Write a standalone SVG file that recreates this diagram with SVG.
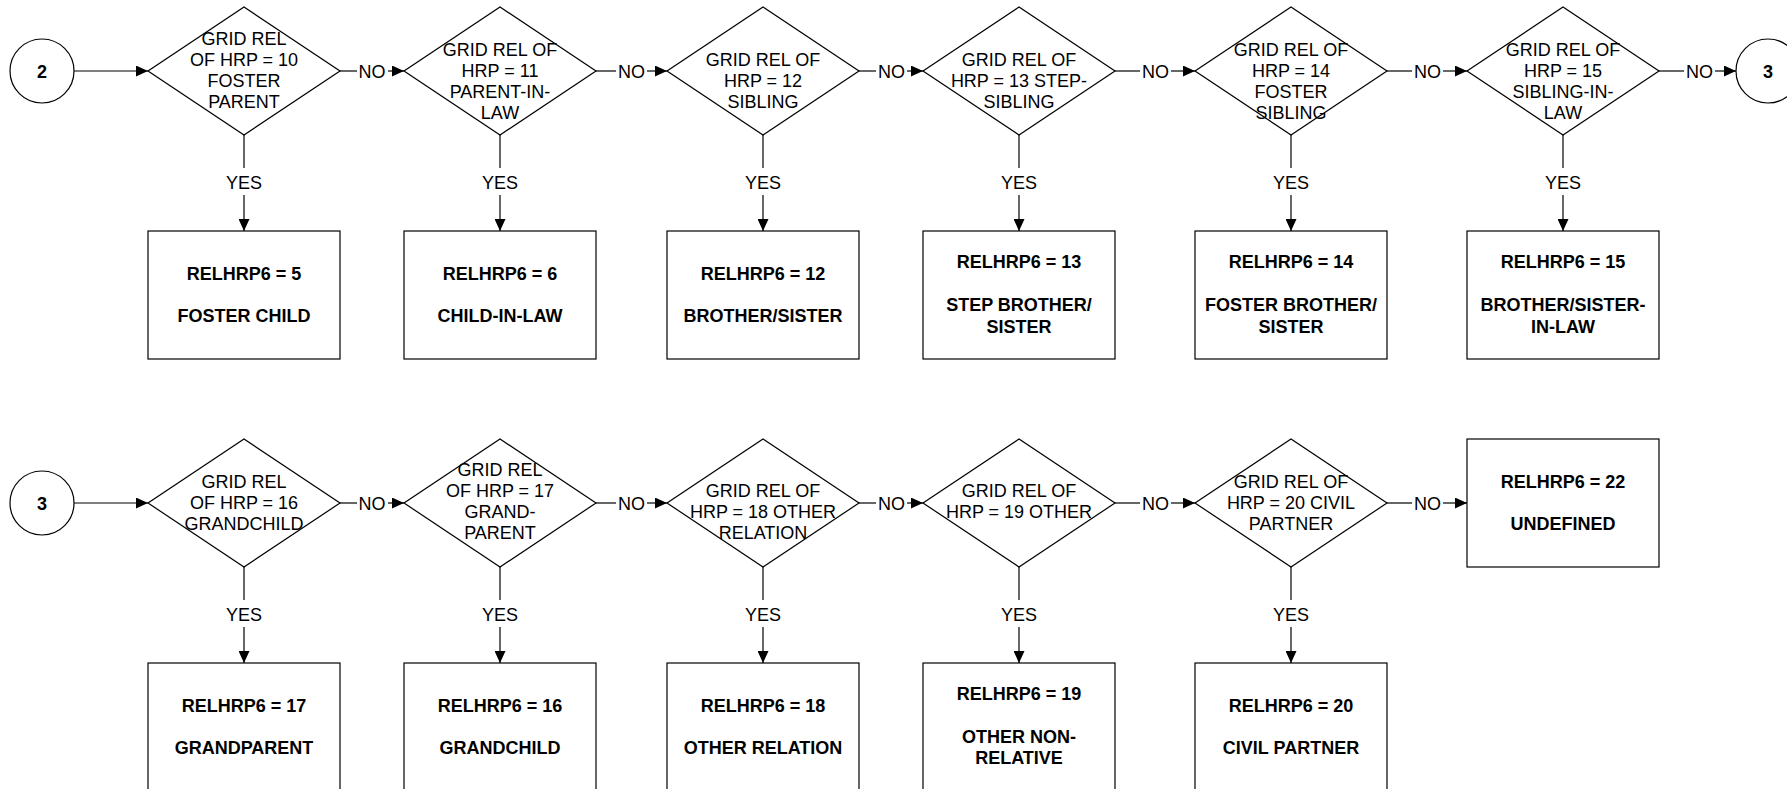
<svg xmlns="http://www.w3.org/2000/svg" width="1787" height="789" viewBox="0 0 1787 789">
<style>
.shape{fill:#fff;stroke:#000;stroke-width:1.2}
.t{font-family:"Liberation Sans",Arial,sans-serif;font-size:18px;fill:#000;text-anchor:middle}
.b{font-weight:bold}
.c{fill:none;stroke:#000;stroke-width:1.2}
</style>
<defs>
<marker id="ah" markerUnits="userSpaceOnUse" markerWidth="12" markerHeight="11" refX="12" refY="5.5" orient="auto">
<path d="M0,0 L12,5.5 L0,11 z" fill="#000"/>
</marker>
</defs>
<rect width="1787" height="789" fill="#fff"/>

<g id="connectors">
<!-- top row horizontal -->
<line class="c" x1="74" y1="71" x2="148" y2="71" marker-end="url(#ah)"/>
<line class="c" x1="340" y1="71" x2="357" y2="71"/><line class="c" x1="388" y1="71" x2="404" y2="71" marker-end="url(#ah)"/>
<line class="c" x1="596" y1="71" x2="616" y2="71"/><line class="c" x1="647" y1="71" x2="667" y2="71" marker-end="url(#ah)"/>
<line class="c" x1="859" y1="71" x2="876" y2="71"/><line class="c" x1="907" y1="71" x2="923" y2="71" marker-end="url(#ah)"/>
<line class="c" x1="1115" y1="71" x2="1140" y2="71"/><line class="c" x1="1171" y1="71" x2="1195" y2="71" marker-end="url(#ah)"/>
<line class="c" x1="1387" y1="71" x2="1412" y2="71"/><line class="c" x1="1443" y1="71" x2="1467" y2="71" marker-end="url(#ah)"/>
<line class="c" x1="1659" y1="71" x2="1684" y2="71"/><line class="c" x1="1715" y1="71" x2="1736" y2="71" marker-end="url(#ah)"/>
<g class="t">
<text x="372" y="77.5">NO</text><text x="631.5" y="77.5">NO</text><text x="891.5" y="77.5">NO</text>
<text x="1155.5" y="77.5">NO</text><text x="1427.5" y="77.5">NO</text><text x="1699.5" y="77.5">NO</text>
</g>
<!-- top row vertical -->
<line class="c" x1="244" y1="135" x2="244" y2="168"/><line class="c" x1="244" y1="195" x2="244" y2="231" marker-end="url(#ah)"/>
<line class="c" x1="500" y1="135" x2="500" y2="168"/><line class="c" x1="500" y1="195" x2="500" y2="231" marker-end="url(#ah)"/>
<line class="c" x1="763" y1="135" x2="763" y2="168"/><line class="c" x1="763" y1="195" x2="763" y2="231" marker-end="url(#ah)"/>
<line class="c" x1="1019" y1="135" x2="1019" y2="168"/><line class="c" x1="1019" y1="195" x2="1019" y2="231" marker-end="url(#ah)"/>
<line class="c" x1="1291" y1="135" x2="1291" y2="168"/><line class="c" x1="1291" y1="195" x2="1291" y2="231" marker-end="url(#ah)"/>
<line class="c" x1="1563" y1="135" x2="1563" y2="168"/><line class="c" x1="1563" y1="195" x2="1563" y2="231" marker-end="url(#ah)"/>
<g class="t">
<text x="244" y="189">YES</text><text x="500" y="189">YES</text><text x="763" y="189">YES</text>
<text x="1019" y="189">YES</text><text x="1291" y="189">YES</text><text x="1563" y="189">YES</text>
</g>
<!-- bottom row horizontal -->
<line class="c" x1="74" y1="503" x2="148" y2="503" marker-end="url(#ah)"/>
<line class="c" x1="340" y1="503" x2="357" y2="503"/><line class="c" x1="388" y1="503" x2="404" y2="503" marker-end="url(#ah)"/>
<line class="c" x1="596" y1="503" x2="616" y2="503"/><line class="c" x1="647" y1="503" x2="667" y2="503" marker-end="url(#ah)"/>
<line class="c" x1="859" y1="503" x2="876" y2="503"/><line class="c" x1="907" y1="503" x2="923" y2="503" marker-end="url(#ah)"/>
<line class="c" x1="1115" y1="503" x2="1140" y2="503"/><line class="c" x1="1171" y1="503" x2="1195" y2="503" marker-end="url(#ah)"/>
<line class="c" x1="1387" y1="503" x2="1412" y2="503"/><line class="c" x1="1443" y1="503" x2="1467" y2="503" marker-end="url(#ah)"/>
<g class="t">
<text x="372" y="509.5">NO</text><text x="631.5" y="509.5">NO</text><text x="891.5" y="509.5">NO</text>
<text x="1155.5" y="509.5">NO</text><text x="1427.5" y="509.5">NO</text>
</g>
<!-- bottom row vertical -->
<line class="c" x1="244" y1="567" x2="244" y2="600"/><line class="c" x1="244" y1="627" x2="244" y2="663" marker-end="url(#ah)"/>
<line class="c" x1="500" y1="567" x2="500" y2="600"/><line class="c" x1="500" y1="627" x2="500" y2="663" marker-end="url(#ah)"/>
<line class="c" x1="763" y1="567" x2="763" y2="600"/><line class="c" x1="763" y1="627" x2="763" y2="663" marker-end="url(#ah)"/>
<line class="c" x1="1019" y1="567" x2="1019" y2="600"/><line class="c" x1="1019" y1="627" x2="1019" y2="663" marker-end="url(#ah)"/>
<line class="c" x1="1291" y1="567" x2="1291" y2="600"/><line class="c" x1="1291" y1="627" x2="1291" y2="663" marker-end="url(#ah)"/>
<g class="t">
<text x="244" y="621">YES</text><text x="500" y="621">YES</text><text x="763" y="621">YES</text>
<text x="1019" y="621">YES</text><text x="1291" y="621">YES</text>
</g>
</g>

<!-- top row -->
<g id="c2"><circle class="shape" cx="42" cy="71" r="32"/><text class="t b" x="42" y="77.5">2</text></g>
<g id="d10"><polygon class="shape" points="148,71 244,7 340,71 244,135"/>
<text class="t"><tspan x="244" y="45">GRID REL</tspan><tspan x="244" y="66">OF HRP = 10</tspan><tspan x="244" y="87">FOSTER</tspan><tspan x="244" y="108">PARENT</tspan></text></g>
<g id="d11"><polygon class="shape" points="404,71 500,7 596,71 500,135"/>
<text class="t"><tspan x="500" y="56">GRID REL OF</tspan><tspan x="500" y="77">HRP = 11</tspan><tspan x="500" y="98">PARENT-IN-</tspan><tspan x="500" y="119">LAW</tspan></text></g>
<g id="d12"><polygon class="shape" points="667,71 763,7 859,71 763,135"/>
<text class="t"><tspan x="763" y="66">GRID REL OF</tspan><tspan x="763" y="87">HRP = 12</tspan><tspan x="763" y="108">SIBLING</tspan></text></g>
<g id="d13"><polygon class="shape" points="923,71 1019,7 1115,71 1019,135"/>
<text class="t"><tspan x="1019" y="66">GRID REL OF</tspan><tspan x="1019" y="87">HRP = 13 STEP-</tspan><tspan x="1019" y="108">SIBLING</tspan></text></g>
<g id="d14"><polygon class="shape" points="1195,71 1291,7 1387,71 1291,135"/>
<text class="t"><tspan x="1291" y="56">GRID REL OF</tspan><tspan x="1291" y="77">HRP = 14</tspan><tspan x="1291" y="98">FOSTER</tspan><tspan x="1291" y="119">SIBLING</tspan></text></g>
<g id="d15"><polygon class="shape" points="1467,71 1563,7 1659,71 1563,135"/>
<text class="t"><tspan x="1563" y="56">GRID REL OF</tspan><tspan x="1563" y="77">HRP = 15</tspan><tspan x="1563" y="98">SIBLING-IN-</tspan><tspan x="1563" y="119">LAW</tspan></text></g>
<g id="c3a"><circle class="shape" cx="1768" cy="71" r="32"/><text class="t b" x="1768" y="77.5">3</text></g>

<g id="r5"><rect class="shape" x="148" y="231" width="192" height="128"/>
<text class="t b"><tspan x="244" y="279.5">RELHRP6 = 5</tspan><tspan x="244" y="322">FOSTER CHILD</tspan></text></g>
<g id="r6"><rect class="shape" x="404" y="231" width="192" height="128"/>
<text class="t b"><tspan x="500" y="279.5">RELHRP6 = 6</tspan><tspan x="500" y="322">CHILD-IN-LAW</tspan></text></g>
<g id="r12"><rect class="shape" x="667" y="231" width="192" height="128"/>
<text class="t b"><tspan x="763" y="279.5">RELHRP6 = 12</tspan><tspan x="763" y="322">BROTHER/SISTER</tspan></text></g>
<g id="r13"><rect class="shape" x="923" y="231" width="192" height="128"/>
<text class="t b"><tspan x="1019" y="268">RELHRP6 = 13</tspan><tspan x="1019" y="311">STEP BROTHER/</tspan><tspan x="1019" y="333">SISTER</tspan></text></g>
<g id="r14"><rect class="shape" x="1195" y="231" width="192" height="128"/>
<text class="t b"><tspan x="1291" y="268">RELHRP6 = 14</tspan><tspan x="1291" y="311">FOSTER BROTHER/</tspan><tspan x="1291" y="333">SISTER</tspan></text></g>
<g id="r15"><rect class="shape" x="1467" y="231" width="192" height="128"/>
<text class="t b"><tspan x="1563" y="268">RELHRP6 = 15</tspan><tspan x="1563" y="311">BROTHER/SISTER-</tspan><tspan x="1563" y="333">IN-LAW</tspan></text></g>

<!-- bottom row -->
<g id="c3b"><circle class="shape" cx="42" cy="503" r="32"/><text class="t b" x="42" y="509.5">3</text></g>
<g id="d16"><polygon class="shape" points="148,503 244,439 340,503 244,567"/>
<text class="t"><tspan x="244" y="488">GRID REL</tspan><tspan x="244" y="509">OF HRP = 16</tspan><tspan x="244" y="530">GRANDCHILD</tspan></text></g>
<g id="d17"><polygon class="shape" points="404,503 500,439 596,503 500,567"/>
<text class="t"><tspan x="500" y="476">GRID REL</tspan><tspan x="500" y="497">OF HRP = 17</tspan><tspan x="500" y="518">GRAND-</tspan><tspan x="500" y="539">PARENT</tspan></text></g>
<g id="d18"><polygon class="shape" points="667,503 763,439 859,503 763,567"/>
<text class="t"><tspan x="763" y="497">GRID REL OF</tspan><tspan x="763" y="518">HRP = 18 OTHER</tspan><tspan x="763" y="539">RELATION</tspan></text></g>
<g id="d19"><polygon class="shape" points="923,503 1019,439 1115,503 1019,567"/>
<text class="t"><tspan x="1019" y="497">GRID REL OF</tspan><tspan x="1019" y="518">HRP = 19 OTHER</tspan></text></g>
<g id="d20"><polygon class="shape" points="1195,503 1291,439 1387,503 1291,567"/>
<text class="t"><tspan x="1291" y="488">GRID REL OF</tspan><tspan x="1291" y="509">HRP = 20 CIVIL</tspan><tspan x="1291" y="530">PARTNER</tspan></text></g>
<g id="r22"><rect class="shape" x="1467" y="439" width="192" height="128"/>
<text class="t b"><tspan x="1563" y="487.5">RELHRP6 = 22</tspan><tspan x="1563" y="529.5">UNDEFINED</tspan></text></g>

<g id="r17"><rect class="shape" x="148" y="663" width="192" height="128"/>
<text class="t b"><tspan x="244" y="711.5">RELHRP6 = 17</tspan><tspan x="244" y="754">GRANDPARENT</tspan></text></g>
<g id="r16"><rect class="shape" x="404" y="663" width="192" height="128"/>
<text class="t b"><tspan x="500" y="711.5">RELHRP6 = 16</tspan><tspan x="500" y="754">GRANDCHILD</tspan></text></g>
<g id="r18"><rect class="shape" x="667" y="663" width="192" height="128"/>
<text class="t b"><tspan x="763" y="711.5">RELHRP6 = 18</tspan><tspan x="763" y="754">OTHER RELATION</tspan></text></g>
<g id="r19"><rect class="shape" x="923" y="663" width="192" height="128"/>
<text class="t b"><tspan x="1019" y="700">RELHRP6 = 19</tspan><tspan x="1019" y="743">OTHER NON-</tspan><tspan x="1019" y="764">RELATIVE</tspan></text></g>
<g id="r20"><rect class="shape" x="1195" y="663" width="192" height="128"/>
<text class="t b"><tspan x="1291" y="711.5">RELHRP6 = 20</tspan><tspan x="1291" y="754">CIVIL PARTNER</tspan></text></g>
</svg>
